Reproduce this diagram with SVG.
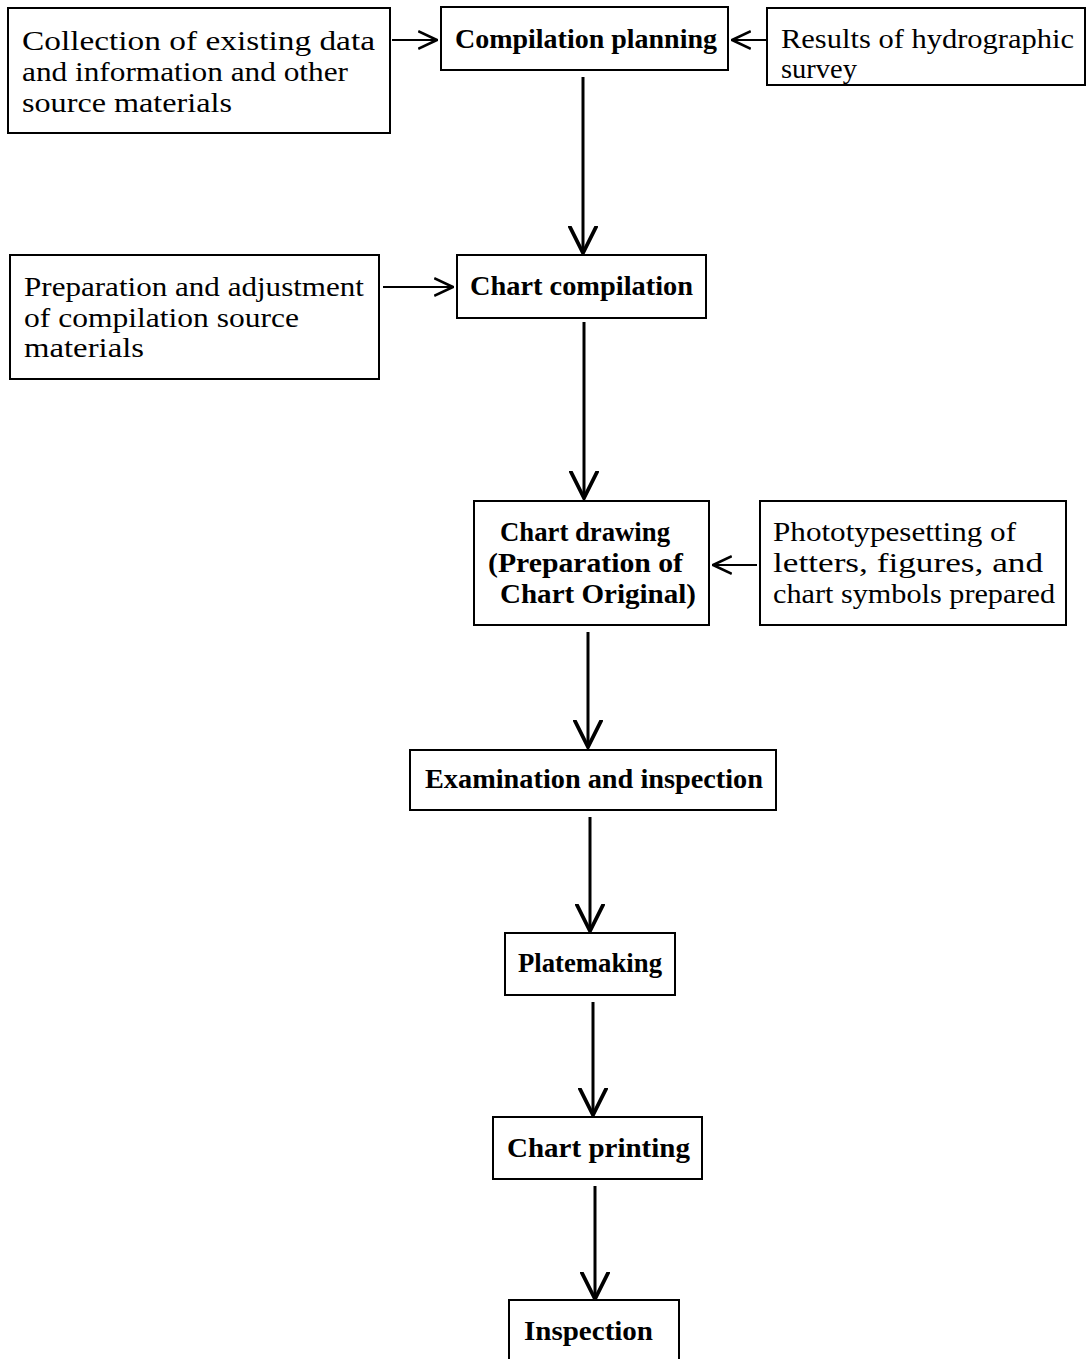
<svg xmlns="http://www.w3.org/2000/svg" width="1092" height="1359" viewBox="0 0 1092 1359">
<style>
.box{fill:#fff;stroke:#000;stroke-width:2}
.t{font-family:"Liberation Serif","Times New Roman",serif;font-size:28px;fill:#000}
.b{font-weight:bold}
.c{fill:none;stroke:#000}
.v{stroke-width:3}
.h{stroke-width:2}
</style>
<defs>
<marker id="av" markerUnits="userSpaceOnUse" markerWidth="30" markerHeight="30" refX="22" refY="12" orient="auto" viewBox="0 0 24 24">
<path d="M0,1 L22,12 L0,23" fill="none" stroke="#000" stroke-width="3"/>
</marker>
<marker id="ah" markerUnits="userSpaceOnUse" markerWidth="20" markerHeight="20" refX="15" refY="8" orient="auto" viewBox="0 0 16 16">
<path d="M0,1 L15,8 L0,15" fill="none" stroke="#000" stroke-width="2"/>
</marker>
</defs>
<rect width="1092" height="1359" fill="#fff"/>
<g id="connectors">
<line class="c h" x1="392" y1="40" x2="437" y2="40" marker-end="url(#ah)"/>
<line class="c h" x1="766" y1="40" x2="732" y2="40" marker-end="url(#ah)"/>
<line class="c v" x1="583" y1="77" x2="583" y2="253" marker-end="url(#av)"/>
<line class="c h" x1="383" y1="287" x2="453" y2="287" marker-end="url(#ah)"/>
<line class="c v" x1="584" y1="322" x2="584" y2="498" marker-end="url(#av)"/>
<line class="c h" x1="757" y1="565" x2="713" y2="565" marker-end="url(#ah)"/>
<line class="c v" x1="588" y1="632" x2="588" y2="747" marker-end="url(#av)"/>
<line class="c v" x1="590" y1="817" x2="590" y2="931" marker-end="url(#av)"/>
<line class="c v" x1="593" y1="1002" x2="593" y2="1115" marker-end="url(#av)"/>
<line class="c v" x1="595" y1="1186" x2="595" y2="1299" marker-end="url(#av)"/>
</g>
<g id="n-collection">
<rect class="box" x="8" y="8" width="382" height="125"/>
<text class="t" x="22" y="50" textLength="353" lengthAdjust="spacingAndGlyphs">Collection of existing data</text>
<text class="t" x="22" y="81" textLength="326" lengthAdjust="spacingAndGlyphs">and information and other</text>
<text class="t" x="22" y="112" textLength="210" lengthAdjust="spacingAndGlyphs">source materials</text>
</g>
<g id="n-planning">
<rect class="box" x="441" y="7" width="287" height="63"/>
<text class="t b" x="455" y="48" textLength="262" lengthAdjust="spacingAndGlyphs">Compilation planning</text>
</g>
<g id="n-results">
<rect class="box" x="767" y="8" width="318" height="77"/>
<text class="t" x="781" y="48" textLength="293" lengthAdjust="spacingAndGlyphs">Results of hydrographic</text>
<text class="t" x="781" y="78" textLength="76" lengthAdjust="spacingAndGlyphs">survey</text>
</g>
<g id="n-preparation">
<rect class="box" x="10" y="255" width="369" height="124"/>
<text class="t" x="24" y="296" textLength="340" lengthAdjust="spacingAndGlyphs">Preparation and adjustment</text>
<text class="t" x="24" y="327" textLength="275" lengthAdjust="spacingAndGlyphs">of compilation source</text>
<text class="t" x="24" y="357" textLength="120" lengthAdjust="spacingAndGlyphs">materials</text>
</g>
<g id="n-compilation">
<rect class="box" x="457" y="255" width="249" height="63"/>
<text class="t b" x="470" y="295" textLength="223" lengthAdjust="spacingAndGlyphs">Chart compilation</text>
</g>
<g id="n-drawing">
<rect class="box" x="474" y="501" width="235" height="124"/>
<text class="t b" x="500" y="541" textLength="170" lengthAdjust="spacingAndGlyphs">Chart drawing</text>
<text class="t b" x="488" y="572" textLength="195" lengthAdjust="spacingAndGlyphs">(Preparation of</text>
<text class="t b" x="500" y="603" textLength="196" lengthAdjust="spacingAndGlyphs">Chart Original)</text>
</g>
<g id="n-photo">
<rect class="box" x="760" y="501" width="306" height="124"/>
<text class="t" x="773" y="541" textLength="243" lengthAdjust="spacingAndGlyphs">Phototypesetting of</text>
<text class="t" x="773" y="572" textLength="270" lengthAdjust="spacingAndGlyphs">letters, figures, and</text>
<text class="t" x="773" y="603" textLength="282" lengthAdjust="spacingAndGlyphs">chart symbols prepared</text>
</g>
<g id="n-examination">
<rect class="box" x="410" y="750" width="366" height="60"/>
<text class="t b" x="425" y="788" textLength="338" lengthAdjust="spacingAndGlyphs">Examination and inspection</text>
</g>
<g id="n-platemaking">
<rect class="box" x="505" y="933" width="170" height="62"/>
<text class="t b" x="518" y="972" textLength="144" lengthAdjust="spacingAndGlyphs">Platemaking</text>
</g>
<g id="n-printing">
<rect class="box" x="493" y="1117" width="209" height="62"/>
<text class="t b" x="507" y="1157" textLength="183" lengthAdjust="spacingAndGlyphs">Chart printing</text>
</g>
<g id="n-inspection">
<rect class="box" x="509" y="1300" width="170" height="64"/>
<text class="t b" x="524" y="1340" textLength="129" lengthAdjust="spacingAndGlyphs">Inspection</text>
</g>
</svg>
